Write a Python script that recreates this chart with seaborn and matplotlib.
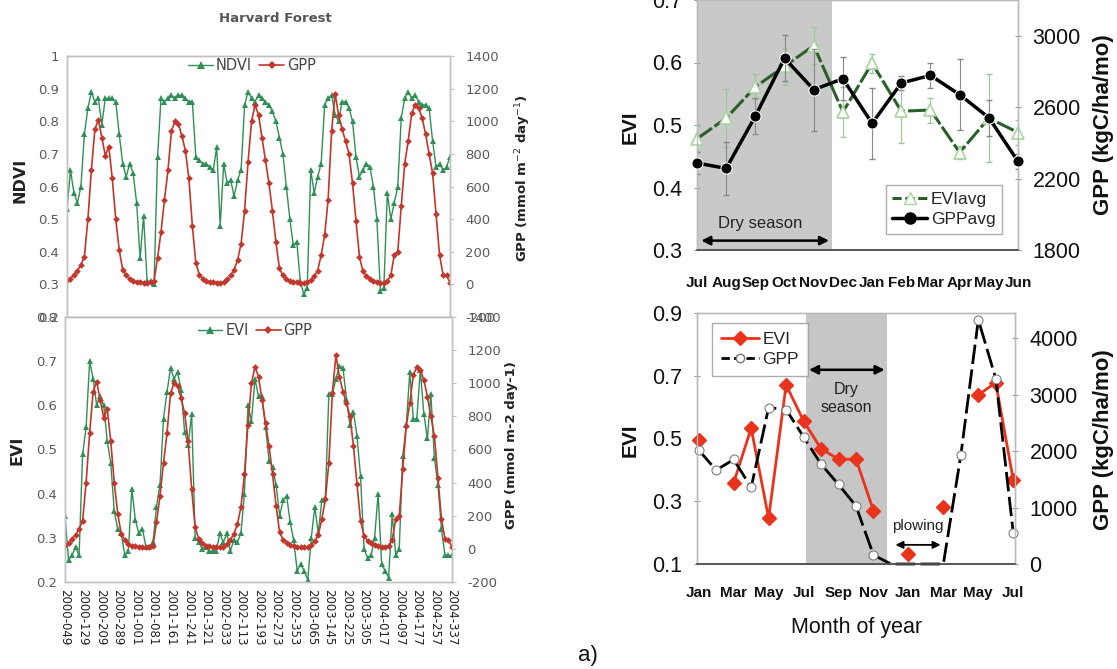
import numpy as np
import pandas as pd
import matplotlib
matplotlib.use("Agg")
import matplotlib.pyplot as plt
import seaborn as sns
from matplotlib.lines import Line2D

sns.set_style("white")
plt.rcParams["font.family"] = ["DejaVu Sans"]

# ---------------- data: Harvard Forest (8-day axis, one value every 16 days) ----------------
date_labels = ["2000-049", "2000-129", "2000-209", "2000-289", "2001-001", "2001-081",
               "2001-161", "2001-241", "2001-321", "2002-033", "2002-113", "2002-193",
               "2002-273", "2002-353", "2003-065", "2003-145", "2003-225", "2003-305",
               "2004-017", "2004-097", "2004-177", "2004-257", "2004-337"]
composite_index = list(range(0, 221, 2))

gpp_hf = [25, 35, 60, 85, 120, 170, 400, 700, 950, 1010,
          900, 790, 845, 650, 400, 210, 90, 55, 30, 18,
          15, 12, 10, 10, 12, 20, 160, 320, 520, 700,
          940, 1000, 985, 910, 820, 650, 360, 130, 60, 35,
          20, 15, 12, 10, 10, 12, 30, 55, 90, 150,
          250, 450, 750, 1000, 1100, 1040, 900, 760, 620, 450,
          260, 100, 55, 35, 22, 15, 12, 10, 10, 12,
          25, 50, 85, 180, 300, 520, 940, 1170, 1040, 950,
          880, 800, 620, 390, 170, 80, 50, 35, 22, 15,
          10, 10, 20, 55, 180, 200, 480, 740, 880, 1050,
          1100, 1080, 1020, 920, 800, 680, 430, 180, 60, 55,
          10]

ndvi_hf = [0.53, 0.65, 0.58, 0.55, 0.60, 0.76, 0.84, 0.89, 0.86, 0.87,
           0.79, 0.87, 0.87, 0.87, 0.86, 0.76, 0.67, 0.63, 0.67, 0.64,
           0.55, 0.38, 0.51, 0.31, 0.31, 0.30, 0.69, 0.87, 0.86, 0.87,
           0.88, 0.87, 0.88, 0.88, 0.87, 0.86, 0.86, 0.69, 0.68, 0.67,
           0.67, 0.66, 0.65, 0.72, 0.48, 0.67, 0.61, 0.62, 0.57, 0.62,
           0.65, 0.85, 0.89, 0.87, 0.86, 0.88, 0.87, 0.86, 0.85, 0.83,
           0.80, 0.75, 0.70, 0.60, 0.50, 0.42, 0.43, 0.31, 0.27, 0.29,
           0.65, 0.58, 0.63, 0.67, 0.85, 0.87, 0.88, 0.82, 0.80, 0.86,
           0.86, 0.84, 0.80, 0.69, 0.63, 0.65, 0.67, 0.66, 0.60, 0.50,
           0.28, 0.29, 0.58, 0.50, 0.55, 0.60, 0.81, 0.87, 0.89, 0.87,
           0.88, 0.86, 0.85, 0.85, 0.84, 0.74, 0.66, 0.67, 0.65, 0.66,
           0.69]

evi_hf = [0.35, 0.25, 0.26, 0.28, 0.26, 0.49, 0.55, 0.70, 0.66, 0.60,
          0.62, 0.60, 0.52, 0.47, 0.36, 0.32, 0.31, 0.26, 0.27, 0.41,
          0.34, 0.31, 0.32, 0.28, 0.28, 0.29, 0.37, 0.42, 0.57, 0.63,
          0.685, 0.66, 0.675, 0.635, 0.54, 0.51, 0.58, 0.30, 0.29, 0.275,
          0.28, 0.27, 0.27, 0.27, 0.31, 0.29, 0.31, 0.27, 0.295, 0.29,
          0.31, 0.40, 0.60, 0.565, 0.66, 0.62, 0.62, 0.55, 0.475, 0.46,
          0.42, 0.35, 0.385, 0.395, 0.335, 0.295, 0.225, 0.24, 0.225, 0.205,
          0.30, 0.37, 0.31, 0.385, 0.39, 0.625, 0.625, 0.66, 0.69, 0.685,
          0.615, 0.555, 0.585, 0.53, 0.44, 0.275, 0.255, 0.26, 0.30, 0.40,
          0.24, 0.225, 0.21, 0.355, 0.26, 0.275, 0.485, 0.555, 0.675, 0.57,
          0.57, 0.68, 0.58, 0.525, 0.625, 0.48, 0.42, 0.32, 0.26, 0.26,
          0.26]

# ---------------- data: monthly averages (top right) ----------------
months_a = ["Jul", "Aug", "Sep", "Oct", "Nov", "Dec", "Jan", "Feb", "Mar", "Apr", "May", "Jun"]
evi_avg = [0.478, 0.511, 0.561, 0.594, 0.627, 0.521, 0.599, 0.522, 0.524, 0.456, 0.511, 0.488]
evi_avg_err = [0.02, 0.046, 0.02, 0.03, 0.03, 0.04, 0.015, 0.05, 0.02, 0.01, 0.07, 0.02]
gpp_avg = [2287, 2257, 2550, 2874, 2698, 2759, 2509, 2735, 2778, 2670, 2541, 2296]
gpp_avg_err = [60, 150, 100, 130, 230, 120, 200, 40, 70, 200, 100, 40]

# ---------------- data: monthly series (bottom right) ----------------
months_b = ["Jan", "Feb", "Mar", "Apr", "May", "Jun", "Jul", "Aug", "Sep", "Oct", "Nov", "Dec",
            "Jan", "Feb", "Mar", "Apr", "May", "Jun", "Jul"]
evi_month = [0.496, np.nan, 0.359, 0.533, 0.246, 0.671, 0.556, 0.467, 0.434, 0.434, 0.270, np.nan,
             0.132, np.nan, 0.283, np.nan, 0.639, 0.678, 0.368]
gpp_month = [2018, 1664, 1853, 1357, 2773, 2738, 2253, 1770, 1410, 1027, 159, 0,
             0, 0, 0, 1929, 4331, 3287, 549]

# ---------------- figure ----------------
W, H = 1117, 669
fig = plt.figure(figsize=(W / 100, H / 100), dpi=100)

GREEN = "#2f8f55"
RED = "#c3362b"
FRAME = "#c0c0c0"
TICKC = "#5a5a5a"

hf = pd.DataFrame({"idx": composite_index, "NDVI": ndvi_hf, "EVI": evi_hf, "GPP": gpp_hf})


def style_left(ax, axr, ylim, yticks, rlim):
    ax.set_xlim(0, 220)
    ax.set_ylim(*ylim)
    ax.set_yticks(yticks)
    ax.set_yticklabels([f"{v:g}" for v in yticks])
    axr.set_ylim(*rlim)
    rt = list(range(rlim[0], rlim[1] + 1, 200))
    axr.set_yticks(rt)
    axr.set_yticklabels([str(v) for v in rt])
    ax.tick_params(axis="y", length=0, labelsize=9.5, labelcolor=TICKC, pad=6)
    axr.tick_params(axis="y", length=3, color=FRAME, labelsize=9.5, labelcolor=TICKC, pad=8)
    ax.set_xlabel("")
    ax.set_ylabel("")
    axr.set_ylabel("")
    for a in (ax, axr):
        for s in a.spines.values():
            s.set_color(FRAME)
            s.set_linewidth(1.0)


# top-left: NDVI & GPP
ax1 = fig.add_axes([67 / W, 1 - 317 / H, 383 / W, 261 / H])
ax1r = ax1.twinx()
sns.lineplot(data=hf, x="idx", y="NDVI", ax=ax1, color=GREEN, lw=1.0, marker="^",
             markersize=5, mew=0, legend=False)
sns.lineplot(data=hf, x="idx", y="GPP", ax=ax1r, color=RED, lw=1.2, marker="D",
             markersize=3.4, mew=0, legend=False)
style_left(ax1, ax1r, (0.2, 1.0), [0.2, 0.3, 0.4, 0.5, 0.6, 0.7, 0.8, 0.9, 1.0], (-200, 1400))
ax1.set_xticks([])
ax1r.set_xticks([])
fig.legend(handles=[Line2D([], [], color=GREEN, marker="^", ms=6, mew=0, lw=1),
                    Line2D([], [], color=RED, marker="D", ms=4, mew=0, lw=1.2)],
           labels=["NDVI", "GPP"], loc="center", bbox_to_anchor=(252 / W, 1 - 66 / H),
           ncol=2, frameon=False, fontsize=10.5, handlelength=1.7, handletextpad=0.2,
           columnspacing=0.5, labelcolor="#444444")

# bottom-left: EVI & GPP
ax2 = fig.add_axes([65 / W, 1 - 582 / H, 387 / W, 265 / H])
ax2r = ax2.twinx()
sns.lineplot(data=hf, x="idx", y="EVI", ax=ax2, color=GREEN, lw=1.0, marker="^",
             markersize=5, mew=0, legend=False)
sns.lineplot(data=hf, x="idx", y="GPP", ax=ax2r, color=RED, lw=1.2, marker="D",
             markersize=3.4, mew=0, legend=False)
style_left(ax2, ax2r, (0.2, 0.8), [0.2, 0.3, 0.4, 0.5, 0.6, 0.7, 0.8], (-200, 1400))
ax2.set_xticks(list(range(0, 221, 10)))
ax2.set_xticklabels(date_labels, rotation=270, fontsize=8.5, color="#222222")
ax2.tick_params(axis="x", length=0, pad=5)
ax2r.set_xlabel("")
fig.legend(handles=[Line2D([], [], color=GREEN, marker="^", ms=6, mew=0, lw=1),
                    Line2D([], [], color=RED, marker="D", ms=4, mew=0, lw=1.2)],
           labels=["EVI", "GPP"], loc="center", bbox_to_anchor=(255 / W, 1 - 331 / H),
           ncol=2, frameon=False, fontsize=10.5, handlelength=1.7, handletextpad=0.2,
           columnspacing=0.5, labelcolor="#444444")

fig.text(275 / W, 1 - 18 / H, "Harvard Forest", fontsize=9.5, weight="bold",
         color="#555555", ha="center", va="center")
fig.text(20 / W, 1 - 180 / H, "NDVI", rotation=90, fontsize=11.5, weight="bold",
         color="#222222", ha="center", va="center")
fig.text(523 / W, 1 - 178 / H, "GPP (mmol m$^{-2}$ day$^{-1}$)", rotation=90, fontsize=9.5,
         weight="bold", color="#222222", ha="center", va="center")
fig.text(17 / W, 1 - 450 / H, "EVI", rotation=90, fontsize=11.5, weight="bold",
         color="#222222", ha="center", va="center")
fig.text(512 / W, 1 - 445 / H, "GPP (mmol m-2 day-1)", rotation=90, fontsize=9.5,
         weight="bold", color="#222222", ha="center", va="center")

# ---------------- right panels ----------------
RFONT = ["Liberation Sans", "DejaVu Sans"]
NFONT = ["Liberation Sans Narrow", "Liberation Sans", "DejaVu Sans"]


def style_right(ax, axr):
    for a in (ax, axr):
        for name, s in a.spines.items():
            s.set_color("#bbbbbb")
            s.set_linewidth(1.0)
        a.spines["bottom"].set_color("#555555")
        a.spines["bottom"].set_linewidth(1.2)
        a.set_xlabel("")
        a.set_ylabel("")
    ax.tick_params(axis="y", direction="inout", length=5, color="#999999", labelsize=15.5, pad=8)
    axr.tick_params(axis="y", direction="inout", length=5, color="#999999", labelsize=15.5, pad=8)
    for lab in ax.get_yticklabels() + axr.get_yticklabels():
        lab.set_family(RFONT)
        lab.set_color("#111111")


# top-right: monthly averages
x_a = list(range(12))
ax3 = fig.add_axes([697 / W, 1 - 250 / H, 321 / W, 250 / H])
ax3r = ax3.twinx()
ax3.axvspan(0, 4.63, color="#c9c9c9", zorder=0, lw=0)
ax3.errorbar(x_a, evi_avg, yerr=evi_avg_err, fmt="none", ecolor="#9cc79c", elinewidth=0.8,
             capsize=2, zorder=2)
ax3r.errorbar(x_a, gpp_avg, yerr=gpp_avg_err, fmt="none", ecolor="#888888", elinewidth=0.8,
              capsize=2, zorder=2)
sns.lineplot(x=x_a, y=evi_avg, ax=ax3, color="#2a5f2a", lw=2.2, linestyle=(0, (6, 1.0)),
             marker="^", markersize=9, markerfacecolor="white", markeredgecolor="#a8d4a0",
             mew=1.2, clip_on=False, zorder=3)
sns.lineplot(x=x_a, y=gpp_avg, ax=ax3r, color="black", lw=2.5, marker="o", markersize=8,
             clip_on=False, zorder=3)
ax3.set_xlim(0, 11)
ax3.set_ylim(0.3, 0.7)
ax3.set_yticks([0.3, 0.4, 0.5, 0.6, 0.7])
ax3.set_yticklabels(["0.3", "0.4", "0.5", "0.6", "0.7"])
ax3r.set_ylim(1800, 3200)
ax3r.set_yticks([1800, 2200, 2600, 3000])
ax3r.set_yticklabels(["1800", "2200", "2600", "3000"])
ax3.set_xticks(x_a)
ax3.set_xticklabels(months_a)
ax3.tick_params(axis="x", direction="inout", length=8, color="#555555", pad=15)
for lab in ax3.get_xticklabels():
    lab.set_family(NFONT)
    lab.set_weight("bold")
    lab.set_fontsize(11)
    lab.set_color("#111111")
style_right(ax3, ax3r)
ax3.annotate("", xy=(4.62, 0.315), xytext=(0.05, 0.315),
             arrowprops=dict(arrowstyle="<|-|>", color="black", lw=1.8, mutation_scale=13))
ax3.text(2.15, 0.342, "Dry season", fontsize=12, family=NFONT, color="#222222",
         ha="center", va="center")
ax3.legend(handles=[Line2D([], [], color="#2a5f2a", lw=2.2, linestyle=(0, (3, 1.2)), marker="^",
                           ms=9, mfc="white", mec="#a8d4a0"),
                    Line2D([], [], color="black", lw=2.5, marker="o", ms=8)],
           labels=["EVIavg", "GPPavg"], loc="lower right", bbox_to_anchor=(0.978, 0.03),
           frameon=True, fancybox=False, edgecolor="#999999",
           prop={"family": NFONT, "size": 12.5}, handlelength=2.0, handletextpad=0.2,
           borderpad=0.4, labelspacing=0.25)

# bottom-right: monthly series
x_b = list(range(19))
ax4 = fig.add_axes([697 / W, 1 - 564 / H, 318 / W, 251 / H])
ax4r = ax4.twinx()
ax4.axvspan(6.15, 10.8, color="#c6c6c6", zorder=0, lw=0)
ax4.plot(x_b, evi_month, color="#e8341c", lw=2, marker="D", markersize=7, clip_on=False, zorder=3)
marks = [i for i, v in enumerate(gpp_month) if v > 0]
sns.lineplot(x=x_b, y=gpp_month, ax=ax4r, color="black", lw=2, linestyle=(0, (7, 2)),
             marker="o", markersize=6.5, markerfacecolor="white", markeredgecolor="#777777",
             markevery=marks, clip_on=False)
ax4.set_xlim(-0.1, 18.1)
ax4.set_ylim(0.1, 0.9)
ax4.set_yticks([0.1, 0.3, 0.5, 0.7, 0.9])
ax4.set_yticklabels(["0.1", "0.3", "0.5", "0.7", "0.9"])
ax4r.set_ylim(0, 4450)
ax4r.set_yticks([0, 1000, 2000, 3000, 4000])
ax4r.set_yticklabels(["0", "1000", "2000", "3000", "4000"])
ax4.set_xticks(x_b)
ax4.set_xticklabels([m if i % 2 == 0 else "" for i, m in enumerate(months_b)])
ax4.tick_params(axis="x", direction="inout", length=8, color="#555555", pad=12)
for lab in ax4.get_xticklabels():
    lab.set_family(NFONT)
    lab.set_weight("bold")
    lab.set_fontsize(11)
    lab.set_color("#111111")
style_right(ax4, ax4r)
ax4.annotate("", xy=(10.8, 0.719), xytext=(6.15, 0.719),
             arrowprops=dict(arrowstyle="<|-|>", color="black", lw=1.8, mutation_scale=13))
ax4.text(8.45, 0.628, "Dry\nseason", fontsize=11.5, family=NFONT, color="#222222",
         ha="center", va="center", linespacing=1.2)
ax4.annotate("", xy=(14.0, 0.161), xytext=(11.1, 0.161),
             arrowprops=dict(arrowstyle="<|-|>", color="black", lw=1.3, mutation_scale=11))
ax4.text(12.55, 0.222, "plowing", fontsize=11, family=NFONT, color="#222222",
         ha="center", va="center")
ax4.legend(handles=[Line2D([], [], color="#e8341c", lw=2, marker="D", ms=7),
                    Line2D([], [], color="black", lw=2, linestyle=(0, (3, 1.5)), marker="o",
                           ms=6, mfc="white", mec="#777777")],
           labels=["EVI", "GPP"], loc="upper left", bbox_to_anchor=(0.02, 0.995),
           frameon=True, fancybox=False, edgecolor="#999999",
           prop={"family": NFONT, "size": 12.5}, handlelength=2.2, handletextpad=0.2,
           borderpad=0.5, labelspacing=0.3)

# right-side axis labels
fig.text(630 / W, 1 - 127 / H, "EVI", rotation=90, fontsize=15, weight="bold",
         family=RFONT, ha="center", va="center", color="#111111")
fig.text(1103 / W, 1 - 125 / H, "GPP (kgC/ha/mo)", rotation=90, fontsize=16, weight="bold",
         family=RFONT, ha="center", va="center", color="#111111")
fig.text(630 / W, 1 - 440 / H, "EVI", rotation=90, fontsize=15, weight="bold",
         family=RFONT, ha="center", va="center", color="#111111")
fig.text(1103 / W, 1 - 440 / H, "GPP (kgC/ha/mo)", rotation=90, fontsize=16, weight="bold",
         family=RFONT, ha="center", va="center", color="#111111")
fig.text(857 / W, 1 - 628 / H, "Month of year", fontsize=15.5, family=RFONT,
         ha="center", va="center", color="#111111")
fig.text(588 / W, 1 - 656 / H, "a)", fontsize=16, family=RFONT, ha="center", va="center",
         color="#111111")

fig.savefig("out.png", dpi=100)
